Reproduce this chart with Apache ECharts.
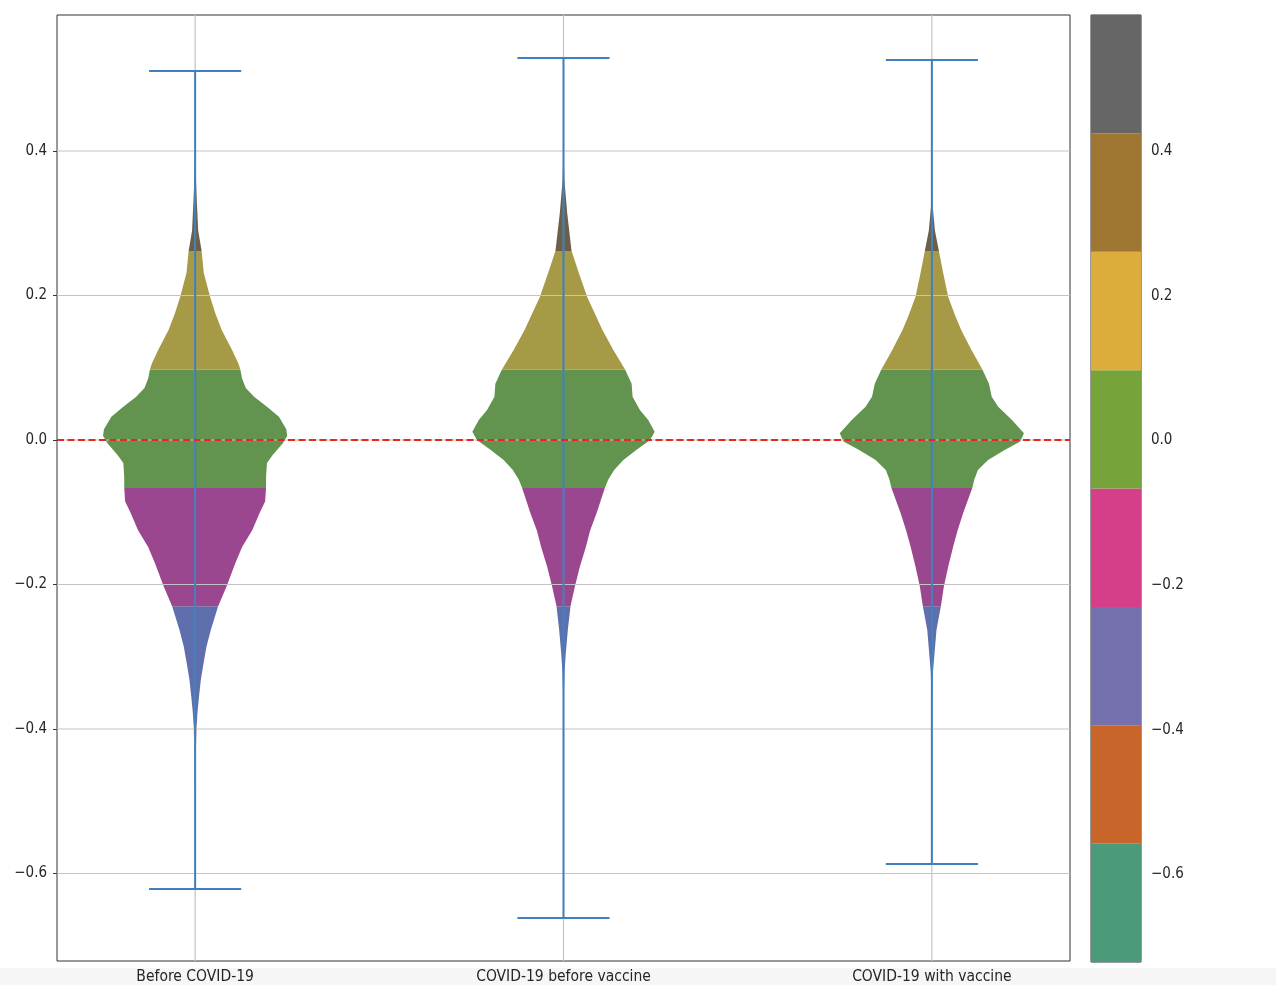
<!DOCTYPE html>
<html>
<head>
<meta charset="utf-8">
<script src="https://cdn.jsdelivr.net/npm/echarts@6/dist/echarts.min.js"></script>
<style>
  html, body { margin: 0; padding: 0; background: #ffffff; }
  #chart { width: 1276px; height: 985px; }
</style>
</head>
<body>
<div id="chart"></div>
<script>
// ---- data ----
const categories = ['Before COVID-19', 'COVID-19 before vaccine', 'COVID-19 with vaccine'];
const positions = [1, 2, 3];
const whiskerMin = [-0.6215, -0.6616, -0.5869];
const whiskerMax = [0.5107, 0.5287, 0.5260];
const yTicks = [-0.6, -0.4, -0.2, 0.0, 0.2, 0.4];

// density profiles: y level (descending) and relative half-width (1 = widest violin)
const profileY1 = [0.5107, 0.42, 0.40, 0.383, 0.337, 0.29, 0.262, 0.231, 0.198, 0.175, 0.152, 0.125, 0.106, 0.098, 0.085, 0.072, 0.06, 0.046, 0.032, 0.015, 0.006, -0.005, -0.021, -0.032, -0.051, -0.066, -0.085, -0.101, -0.125, -0.148, -0.171, -0.203, -0.23, -0.263, -0.286, -0.31, -0.332, -0.355, -0.378, -0.397, -0.43, -0.47, -0.52, -0.6215];
const profileW1 = [0, 0, 0.002, 0.004, 0.016, 0.033, 0.07, 0.094, 0.163, 0.22, 0.29, 0.40, 0.47, 0.49, 0.51, 0.55, 0.64, 0.78, 0.91, 0.99, 1.0, 0.95, 0.84, 0.78, 0.77, 0.77, 0.76, 0.70, 0.62, 0.51, 0.435, 0.34, 0.25, 0.17, 0.123, 0.09, 0.062, 0.042, 0.025, 0.016, 0.008, 0.004, 0.001, 0];

const profileY2 = [0.5287, 0.42, 0.39, 0.36, 0.314, 0.262, 0.231, 0.198, 0.152, 0.125, 0.098, 0.078, 0.06, 0.0415, 0.0277, 0.0115, 0.0, -0.0138, -0.0277, -0.0415, -0.055, -0.066, -0.101, -0.125, -0.148, -0.175, -0.203, -0.23, -0.263, -0.295, -0.323, -0.355, -0.42, -0.6616];
const profileW2 = [0, 0, 0.003, 0.01, 0.04, 0.087, 0.167, 0.257, 0.424, 0.54, 0.667, 0.74, 0.75, 0.83, 0.92, 0.99, 0.94, 0.79, 0.65, 0.55, 0.485, 0.45, 0.36, 0.29, 0.243, 0.178, 0.123, 0.076, 0.047, 0.025, 0.011, 0.004, 0.001, 0];

const profileY3 = [0.5260, 0.40, 0.36, 0.328, 0.29, 0.262, 0.231, 0.198, 0.171, 0.152, 0.1246, 0.098, 0.078, 0.06, 0.046, 0.0277, 0.0092, -0.002, -0.0138, -0.0277, -0.0415, -0.055, -0.066, -0.101, -0.125, -0.148, -0.175, -0.203, -0.23, -0.263, -0.295, -0.323, -0.36, -0.42, -0.5869];
const profileW3 = [0, 0, 0.002, 0.006, 0.033, 0.076, 0.123, 0.178, 0.257, 0.32, 0.43, 0.547, 0.62, 0.65, 0.72, 0.87, 1.0, 0.96, 0.79, 0.61, 0.50, 0.46, 0.44, 0.34, 0.28, 0.23, 0.178, 0.13, 0.098, 0.05, 0.029, 0.011, 0.004, 0.001, 0];

// colour bands, bottom to top
const colorbarColors = ['#4b9b7a', '#c8652a', '#7571ae', '#d53f8a', '#76a43a', '#dcac3c', '#9f7732', '#666666'];
const violinColors   = ['#4f8f76', '#bf8450', '#5f6fad', '#9b478f', '#62944f', '#a69a47', '#6b5f47', '#5c5c5c'];

// ---- layout helpers ----
const profiles = [[profileY1, profileW1], [profileY2, profileW2], [profileY3, profileW3]];
const allMin = Math.min.apply(null, whiskerMin);
const allMax = Math.max.apply(null, whiskerMax);
const ySpan = allMax - allMin;
const yMin = allMin - 0.05 * ySpan;
const yMax = allMax + 0.05 * ySpan;
const xMin = 0.625, xMax = 3.375;
const HALF = 0.25;      // half of the violin width at its widest
const CAP = 0.125;      // half-length of the whisker caps
const nBands = colorbarColors.length;
const bandEdges = [];
for (let k = 0; k <= nBands; k++) bandEdges.push(yMin + (yMax - yMin) * k / nBands);

function widthAt(ys, ws, y) {
  for (let k = 0; k < ys.length - 1; k++) {
    const a = ys[k], b = ys[k + 1];
    if (y <= a && y >= b) {
      const t = a === b ? 0 : (a - y) / (a - b);
      return ws[k] + (ws[k + 1] - ws[k]) * t;
    }
  }
  return 0;
}

function fmt(v) {
  return (v < -1e-9 ? '\u2212' : '') + Math.abs(v).toFixed(1);
}

const FONT = '"DejaVu Sans Condensed", "DejaVu Sans", sans-serif';
const TEXT = '#262626';
const FRAME = '#333333';

// ---- series renderers ----
function renderViolin(params, api) {
  const i = params.dataIndex;
  const pos = positions[i];
  const ys = profiles[i][0], ws = profiles[i][1];
  const top = ys[0], bot = ys[ys.length - 1];
  const children = [];
  for (let b = 0; b < nBands; b++) {
    const lo = Math.max(bandEdges[b], bot);
    const hi = Math.min(bandEdges[b + 1], top);
    if (hi <= lo) continue;
    const levels = [hi];
    for (let k = 0; k < ys.length; k++) if (ys[k] < hi && ys[k] > lo) levels.push(ys[k]);
    levels.push(lo);
    const right = levels.map(y => api.coord([pos + HALF * widthAt(ys, ws, y), y]));
    const left = levels.slice().reverse().map(y => api.coord([pos - HALF * widthAt(ys, ws, y), y]));
    children.push({
      type: 'polygon',
      shape: { points: right.concat(left) },
      style: { fill: violinColors[b], stroke: null }
    });
  }
  return { type: 'group', children: children };
}

function renderGrid(params, api) {
  const kind = api.value(0), v = api.value(1);
  let p1, p2;
  if (kind === 0) { p1 = api.coord([xMin, v]); p2 = api.coord([xMax, v]); }
  else { p1 = api.coord([v, yMin]); p2 = api.coord([v, yMax]); }
  return {
    type: 'line',
    shape: { x1: p1[0], y1: p1[1], x2: p2[0], y2: p2[1] },
    style: { stroke: '#c4c4c4', lineWidth: 1.2 }
  };
}

function renderWhisker(params, api) {
  const i = params.dataIndex;
  const pos = positions[i];
  const pTop = api.coord([pos, whiskerMax[i]]);
  const pBot = api.coord([pos, whiskerMin[i]]);
  const cl = api.coord([pos - CAP, whiskerMax[i]]);
  const cr = api.coord([pos + CAP, whiskerMax[i]]);
  const dl = api.coord([pos - CAP, whiskerMin[i]]);
  const dr = api.coord([pos + CAP, whiskerMin[i]]);
  const st = { stroke: '#3f7fbd', lineWidth: 2 };
  return {
    type: 'group',
    children: [
      { type: 'line', shape: { x1: pTop[0], y1: pTop[1], x2: pBot[0], y2: pBot[1] }, style: st },
      { type: 'line', shape: { x1: cl[0], y1: cl[1], x2: cr[0], y2: cr[1] }, style: st },
      { type: 'line', shape: { x1: dl[0], y1: dl[1], x2: dr[0], y2: dr[1] }, style: st }
    ]
  };
}

function renderZeroLine(params, api) {
  const p1 = api.coord([xMin, 0]);
  const p2 = api.coord([xMax, 0]);
  return {
    type: 'line',
    shape: { x1: p1[0], y1: p1[1], x2: p2[0], y2: p2[1] },
    style: { stroke: '#e8281e', lineWidth: 2, lineDash: [7, 3.5] }
  };
}

function renderColorbar(params, api) {
  const b = params.dataIndex;
  const p1 = api.coord([0, bandEdges[b + 1]]);
  const p2 = api.coord([1, bandEdges[b]]);
  return {
    type: 'rect',
    shape: { x: p1[0], y: p1[1], width: p2[0] - p1[0], height: p2[1] - p1[1] },
    style: { fill: colorbarColors[b], stroke: null }
  };
}

const gridData = yTicks.map(v => [0, v]).concat(positions.map(p => [1, p]));

const option = {
  backgroundColor: '#ffffff',
  animation: false,
  graphic: [{
    type: 'rect', z: -10, silent: true,
    shape: { x: 0, y: 968, width: 1276, height: 17 },
    style: { fill: '#f6f6f6' }
  }],
  grid: [
    { left: 57, top: 15, width: 1013, height: 947, show: true, borderColor: FRAME, borderWidth: 1, backgroundColor: 'transparent' },
    { left: 1091, top: 15, width: 50, height: 947, show: true, borderColor: FRAME, borderWidth: 1, backgroundColor: 'transparent' }
  ],
  xAxis: [
    {
      type: 'value', gridIndex: 0, min: xMin, max: xMax,
      axisLine: { show: false },
      splitLine: { show: false },
      axisTick: { show: true, customValues: positions, length: 4, lineStyle: { color: FRAME } },
      axisLabel: {
        customValues: positions, margin: 8,
        fontFamily: FONT, fontSize: 15.5, color: TEXT,
        formatter: v => categories[Math.round(v) - 1]
      }
    },
    {
      type: 'value', gridIndex: 1, min: 0, max: 1,
      axisLine: { show: false }, axisTick: { show: false }, axisLabel: { show: false }, splitLine: { show: false }
    }
  ],
  yAxis: [
    {
      type: 'value', gridIndex: 0, min: yMin, max: yMax,
      axisLine: { show: false },
      splitLine: { show: false },
      axisTick: { show: true, customValues: yTicks, length: 4, lineStyle: { color: FRAME } },
      axisLabel: { customValues: yTicks, margin: 10, fontFamily: FONT, fontSize: 15, color: TEXT, formatter: fmt }
    },
    {
      type: 'value', gridIndex: 1, min: yMin, max: yMax, position: 'right',
      axisLine: { show: false },
      splitLine: { show: false },
      axisTick: { show: true, customValues: yTicks, length: 4, lineStyle: { color: FRAME } },
      axisLabel: { customValues: yTicks, margin: 10, fontFamily: FONT, fontSize: 15, color: TEXT, formatter: fmt }
    }
  ],
  series: [
    {
      type: 'custom', name: 'violins', xAxisIndex: 0, yAxisIndex: 0, z: 2, silent: true, clip: false,
      data: positions.map(p => [p, 0]),
      renderItem: renderViolin
    },
    {
      type: 'custom', name: 'grid', xAxisIndex: 0, yAxisIndex: 0, z: 3, silent: true, clip: false,
      data: gridData,
      renderItem: renderGrid
    },
    {
      type: 'custom', name: 'extrema', xAxisIndex: 0, yAxisIndex: 0, z: 4, silent: true, clip: false,
      data: positions.map((p, i) => [p, whiskerMax[i]]),
      renderItem: renderWhisker
    },
    {
      type: 'custom', name: 'zero', xAxisIndex: 0, yAxisIndex: 0, z: 5, silent: true, clip: false,
      data: [[1, 0]],
      renderItem: renderZeroLine
    },
    {
      type: 'custom', name: 'colorbar', xAxisIndex: 1, yAxisIndex: 1, z: 2, silent: true, clip: false,
      data: colorbarColors.map((c, b) => [0.5, (bandEdges[b] + bandEdges[b + 1]) / 2]),
      renderItem: renderColorbar
    }
  ]
};

const chart = echarts.init(document.getElementById('chart'), null, { renderer: 'canvas' });
chart.setOption(option);
</script>
</body>
</html>
